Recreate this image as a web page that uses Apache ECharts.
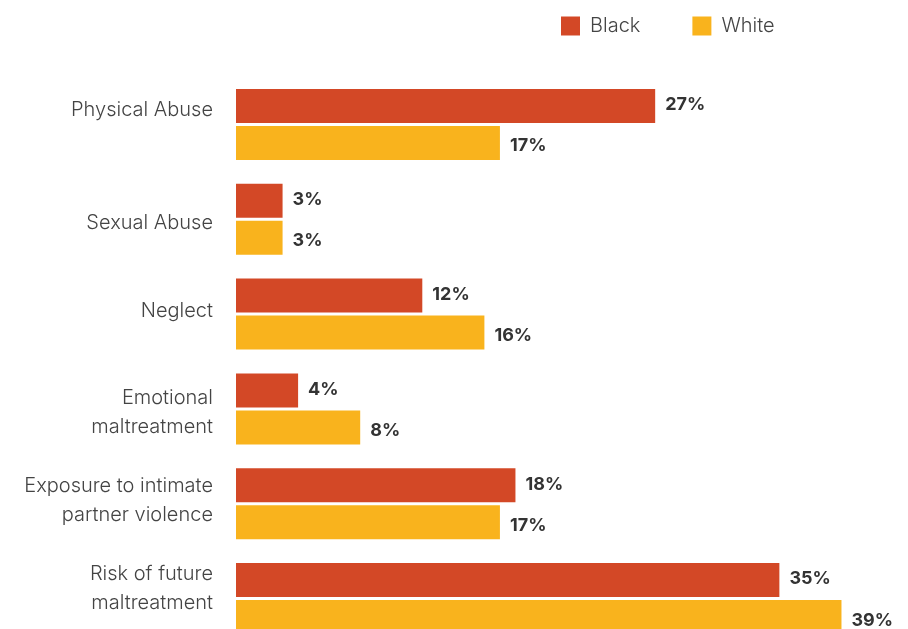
<!DOCTYPE html>
<html>
<head>
<meta charset="utf-8">
<script src="https://cdn.jsdelivr.net/npm/echarts@6/dist/echarts.min.js"></script>
<style>
html,body{margin:0;padding:0;background:#fff;overflow:hidden;}
#chart{width:908px;height:646px;}
</style>
</head>
<body>
<div id="chart"></div>
<script>
const categories = [
  "Physical Abuse",
  "Sexual Abuse",
  "Neglect",
  "Emotional\nmaltreatment",
  "Exposure to intimate\npartner violence",
  "Risk of future\nmaltreatment"
];
const blackValues = [27, 3, 12, 4, 18, 35];
const whiteValues = [17, 3, 16, 8, 17, 39];

// vertical nudge of each category label (px, negative = up), mimicking the reference
const labelShift = [-14, 4, -3, 4, -3, -10];

const FONT = 'Inter';
const rich = { t: { fontFamily: FONT, fontSize: 20, fontWeight: 300, color: '#444', lineHeight: 29, align: 'right' } };
labelShift.forEach((s, i) => {
  rich['s' + i] = { fontSize: 1, lineHeight: Math.max(1, Math.abs(s) * 2) };
});

function catLabel(value, idx) {
  const body = value.split('\n').map(l => '{t|' + l + '}').join('\n');
  const s = labelShift[idx];
  if (!s) return body;
  const spacer = '{s' + idx + '| }';
  return s < 0 ? body + '\n' + spacer : spacer + '\n' + body;
}

const chart = echarts.init(document.getElementById('chart'));
chart.setOption({
  animation: false,
  legend: {
    data: ['Black', 'White'],
    left: 556,
    top: 11,
    itemWidth: 19,
    itemHeight: 19,
    itemGap: 52,
    icon: 'rect',
    textStyle: { fontFamily: FONT, fontSize: 20, color: '#444', fontWeight: 300, padding: [0, 0, 0, 5] }
  },
  grid: { left: 236, right: 51, top: 77, bottom: 0, containLabel: false },
  xAxis: {
    type: 'value',
    min: 0,
    max: 40,
    show: false
  },
  yAxis: {
    type: 'category',
    inverse: true,
    data: categories,
    axisLine: { show: false },
    axisTick: { show: false },
    axisLabel: {
      margin: 23,
      align: 'right',
      formatter: catLabel,
      rich: rich
    }
  },
  series: [
    {
      name: 'Black',
      type: 'bar',
      data: blackValues,
      barWidth: 34,
      barGap: '9%',
      itemStyle: { color: '#D34826' },
      label: {
        show: true,
        position: 'right',
        distance: 10,
        formatter: '{c}%',
        fontFamily: FONT,
        fontSize: 18,
        fontWeight: 'bold',
        color: '#333',
        offset: [0, -1]
      }
    },
    {
      name: 'White',
      type: 'bar',
      data: whiteValues,
      barWidth: 34,
      itemStyle: { color: '#F9B31D' },
      label: {
        show: true,
        position: 'right',
        distance: 10,
        formatter: '{c}%',
        fontFamily: FONT,
        fontSize: 18,
        fontWeight: 'bold',
        color: '#333',
        offset: [0, 3]
      }
    }
  ]
});
</script>
</body>
</html>
